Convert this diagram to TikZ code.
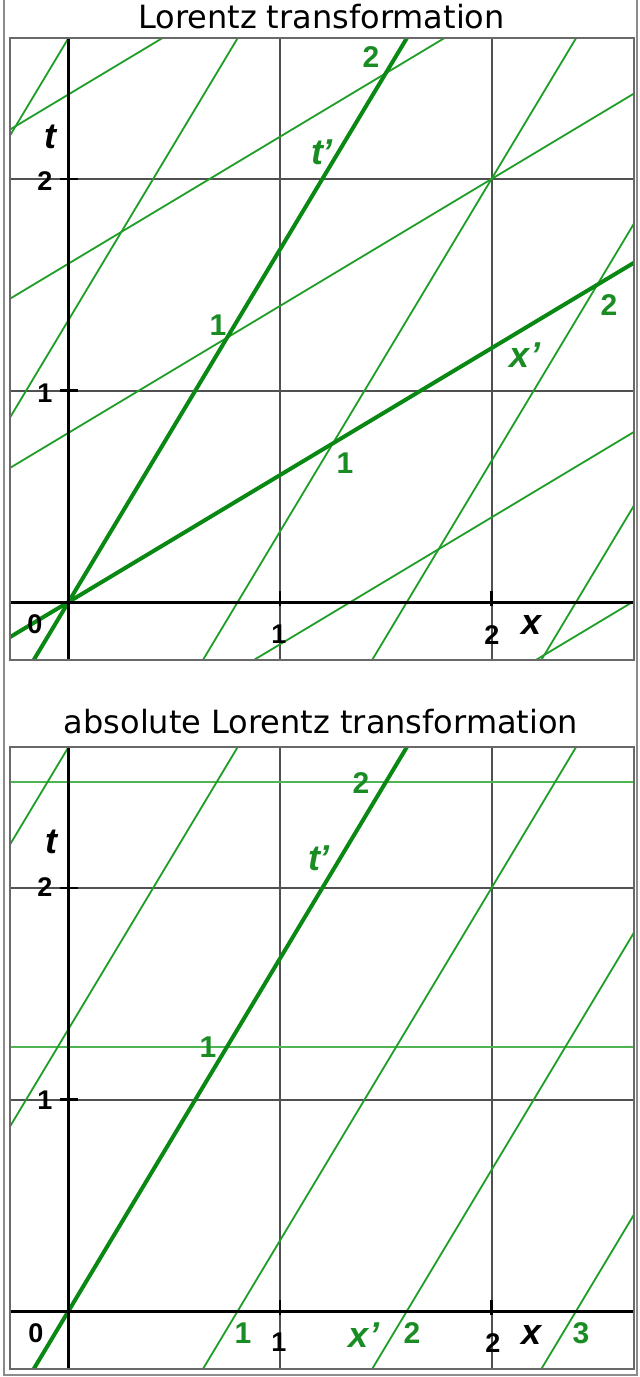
\documentclass[tikz,border=0pt]{standalone}
\usepackage{fontspec}
\setmainfont{DejaVu Sans}
\newfontfamily\lab{Liberation Sans}
\definecolor{gridgray}{RGB}{80,80,80}
\definecolor{boxgray}{RGB}{105,105,105}
\definecolor{framegray}{RGB}{140,140,140}
\definecolor{gthincol}{RGB}{30,158,38}
\definecolor{gthickcol}{RGB}{10,136,20}
\definecolor{ghorcol}{RGB}{80,180,80}
\definecolor{glabcol}{RGB}{26,140,36}
\tikzset{
  gridl/.style={draw=gridgray, line width=1pt},
  axisl/.style={draw=black, line width=1.5pt},
  tickl/.style={draw=black, line width=1.4pt},
  boxl/.style={draw=boxgray, line width=1.2pt},
  framel/.style={draw=framegray, line width=1.4pt},
  gthin/.style={draw=gthincol, line width=0.9pt},
  gthick/.style={draw=gthickcol, line width=2pt},
  ghor/.style={draw=ghorcol, line width=0.9pt},
  glab/.style={text=glabcol, font=\lab\bfseries\fontsize{15}{15}\selectfont, inner sep=0pt},
  blab/.style={text=black, font=\lab\bfseries\fontsize{13.5}{13.5}\selectfont, inner sep=0pt},
  gvar/.style={text=glabcol, font=\lab\bfseries\itshape\fontsize{18}{18}\selectfont, inner sep=0pt},
  bvar/.style={text=black, font=\lab\bfseries\itshape\fontsize{18}{18}\selectfont, inner sep=0pt},
  titlel/.style={font=\fontsize{16}{16}\selectfont, inner sep=0pt, anchor=base, text=black}
}
\begin{document}
\begin{tikzpicture}[x=0.5pt,y=-0.5pt]
\useasboundingbox (0,0) rectangle (639,1377);
\fill[white] (0,0) rectangle (639,1377);

% outer frame
\draw[framel] (4,0) -- (4,1375) -- (637,1375) -- (637,0);

% titles
\node[titlel] (title1) at (321.5,28) {Lorentz transformation};
\node[titlel] (title2) at (321,733) {absolute Lorentz transformation};

% ---------- common grid for both panels ----------
\foreach \oy in {602,1311}{
  \begin{scope}[shift={(68.5,\oy)}, x=105.75pt, y=105.75pt]
    \draw[gridl] (1,-0.274) -- (1,2.667);
    \draw[gridl] (2,-0.274) -- (2,2.667);
    \draw[gridl] (-0.277,1) -- (2.674,1);
    \draw[gridl] (-0.277,2) -- (2.674,2);
  \end{scope}
}

% ---------- top panel: Lorentz transformation ----------
\begin{scope}[shift={(68.5,602)}, x=105.75pt, y=105.75pt]
  \begin{scope}
    \clip (-0.277,-0.274) rectangle (2.674,2.667);
    \foreach \k in {-2,-1,1,2,3}{
      \draw[gthin] ({-0.6+0.8*\k},-1) -- ({1.8+0.8*\k},3);
      \draw[gthin] (-1,{-0.6+0.8*\k}) -- (3,{1.8+0.8*\k});
    }
    \draw[gthick] (-0.6,-1) -- (1.8,3);
    \draw[gthick] (-1,-0.6) -- (3,1.8);
  \end{scope}
  \draw[axisl] (-0.277,0) -- (2.674,0);
  \draw[axisl] (0,-0.274) -- (0,2.667);
  \draw[tickl] (-0.04,1) -- (0.045,1);
  \draw[tickl] (-0.04,2) -- (0.045,2);
  \draw[tickl] (1,-0.02) -- (1,0.052);
  \draw[tickl] (2,-0.02) -- (2,0.052);
  \draw[boxl] (-0.277,-0.274) rectangle (2.674,2.667);
\end{scope}

% top panel labels
\node[glab] (a2) at (371,57) {2};
\node[gvar] (atp) at (322,152) {t’};
\node[glab] (a1) at (218,325) {1};
\node[glab] (b2) at (609,305) {2};
\node[gvar] (bxp) at (525,355) {x’};
\node[glab] (b1) at (345,463) {1};
\node[bvar] (tt1) at (50,137) {t};
\node[blab] (tt2) at (45,181) {2};
\node[blab] (tt1n) at (45,393) {1};
\node[blab] (o1) at (35,624) {0};
\node[blab] (xx1) at (279,634) {1};
\node[blab] (xx2) at (492,635) {2};
\node[bvar] (xv1) at (532,625) {x};

% ---------- bottom panel: absolute Lorentz transformation ----------
\begin{scope}[shift={(68.5,1311)}, x=105.75pt, y=105.75pt]
  \begin{scope}
    \clip (-0.277,-0.274) rectangle (2.674,2.667);
    \draw[ghor] (-0.277,1.25) -- (2.674,1.25);
    \draw[ghor] (-0.277,2.5) -- (2.674,2.5);
    \foreach \k in {-2,-1,1,2,3}{
      \draw[gthin] ({-0.6+0.8*\k},-1) -- ({1.8+0.8*\k},3);
    }
    \draw[gthick] (-0.6,-1) -- (1.8,3);
  \end{scope}
  \draw[axisl] (-0.277,0) -- (2.674,0);
  \draw[axisl] (0,-0.274) -- (0,2.667);
  \draw[tickl] (-0.04,1) -- (0.045,1);
  \draw[tickl] (-0.04,2) -- (0.045,2);
  \draw[tickl] (1,-0.02) -- (1,0.052);
  \draw[tickl] (2,-0.02) -- (2,0.052);
  \draw[boxl] (-0.277,-0.274) rectangle (2.674,2.667);
\end{scope}

% bottom panel labels
\node[glab] (c2) at (361,783) {2};
\node[gvar] (ctp) at (319,858) {t’};
\node[glab] (c1) at (208,1047) {1};
\node[bvar] (tt2b) at (51,842) {t};
\node[blab] (tb2) at (45,887) {2};
\node[blab] (tb1) at (45,1100) {1};
\node[blab] (o2) at (36,1333) {0};
\node[glab] (d1) at (243,1333) {1};
\node[blab] (xb1) at (279,1342) {1};
\node[gvar] (dxp) at (364,1335) {x’};
\node[glab] (d2) at (412,1333) {2};
\node[blab] (xb2) at (493,1343) {2};
\node[bvar] (xv2) at (532,1335) {x};
\node[glab] (d3) at (581,1333) {3};
\end{tikzpicture}
\end{document}
